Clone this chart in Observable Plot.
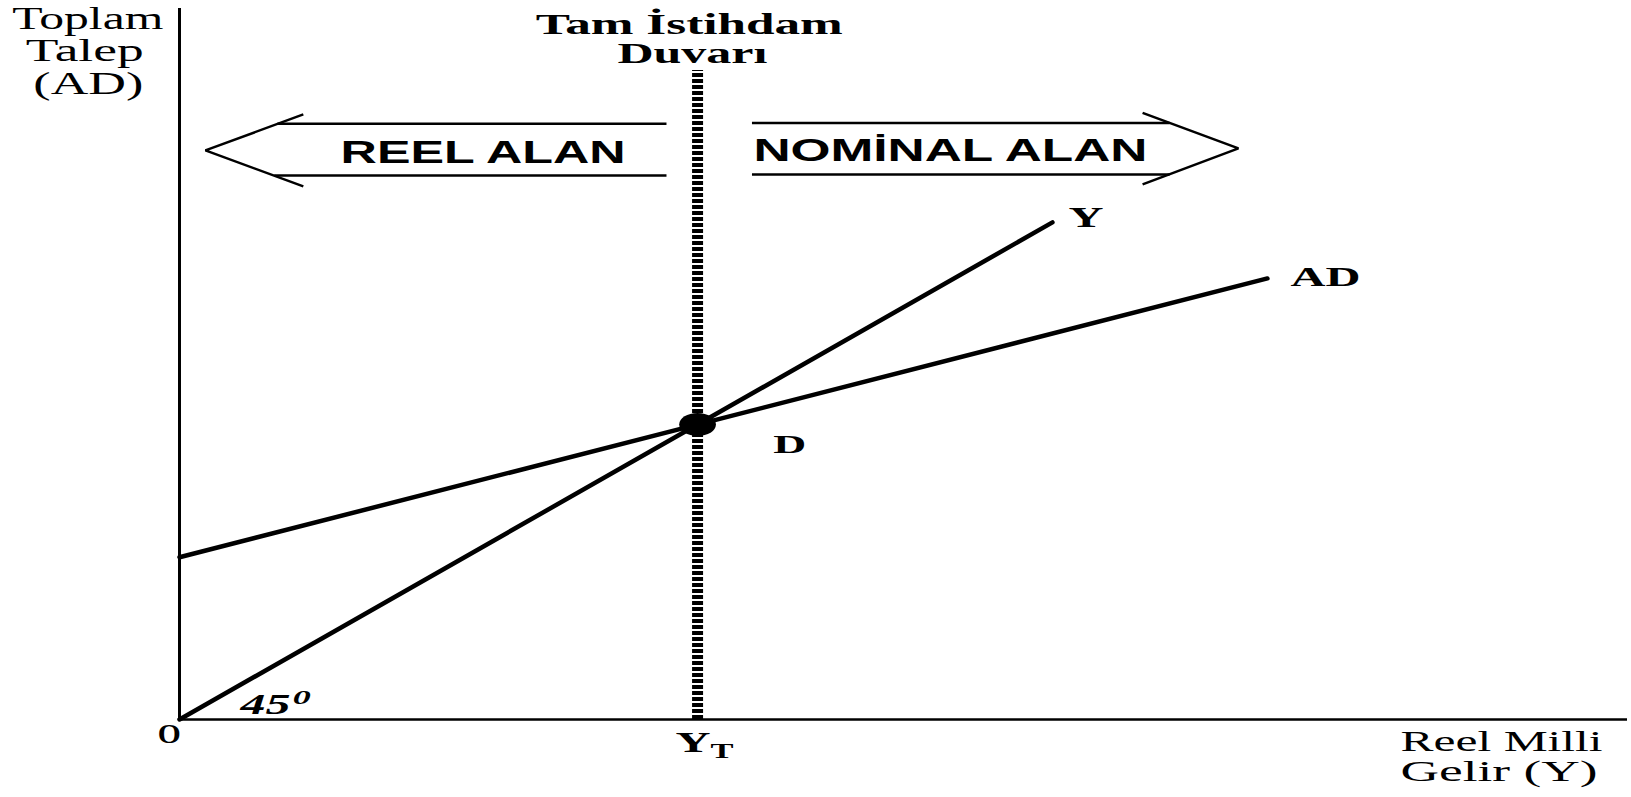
<!DOCTYPE html>
<html>
<head>
<meta charset="utf-8">
<script src="https://cdn.jsdelivr.net/npm/d3@7"></script>
<script src="https://cdn.jsdelivr.net/npm/@observablehq/plot@0.6"></script>
<style>
  html, body { margin: 0; padding: 0; background: #fff; overflow: hidden; }
  #chart svg { display: block; }
</style>
</head>
<body>
<div id="chart"></div>
<script>
// ---------- data ----------
const incomeX = [0, 168.5];          // 45° line  Y = Y
const incomeY = [0, 168.5];
const demandX = [0, 210];            // aggregate demand AD
const demandY = [55, 149.5];
const fullEmploymentY = 100;         // Y_T (tam istihdam duvarı)
const wallTop = 220;
const equilibrium = [{x: 100, y: 100}]; // point D
const xMax = 279.5, yMax = 241;

// arrow outlines (data units)
const leftShaftTop    = [[94, 201.9], [18.9, 201.9]];
const leftShaftBottom = [[94, 184.4], [18.3, 184.4]];
const leftHead        = [[23.9, 205.1], [5.0, 192.9], [23.9, 180.7]];
const rightShaftTop    = [[110.5, 202.2], [191.1, 202.2]];
const rightShaftBottom = [[110.5, 184.7], [191.1, 184.7]];
const rightHead        = [[185.9, 205.6], [204.4, 193.6], [185.9, 181.4]];

// ---------- annotations ----------
const serifRegular = [
  {t: "Toplam", x: -17.7, y: 234.2, fs: 32, w: 151},
  {t: "Talep", x: -18.3, y: 223.1, fs: 32, w: 118},
  {t: "(AD)", x: -17.6, y: 211.9, fs: 32, w: 110},
  {t: "Reel Milli", x: 255.2, y: -10.8, fs: 29, w: 202},
  {t: "Gelir (Y)", x: 254.7, y: -21.0, fs: 29, w: 197}
];
const serifBold = [
  {t: "Tam İstihdam", x: 98.4, y: 232.5, fs: 30, w: 307},
  {t: "Duvarı", x: 99.0, y: 222.4, fs: 30, w: 150},
  {t: "Y", x: 175.0, y: 166.8, fs: 30, w: 35},
  {t: "AD", x: 221.2, y: 147.1, fs: 27, w: 70},
  {t: "D", x: 117.8, y: 90.2, fs: 26, w: 33},
  {t: "O", x: -2.0, y: -8.1, fs: 27, w: 23},
  {t: "Y", x: 99.1, y: -11.0, fs: 30, w: 35},
  {t: "T", x: 104.7, y: -13.2, fs: 20, w: 23}
];
const sansBold = [
  {t: "REEL ALAN", x: 58.6, y: 188.6, fs: 31, w: 285},
  {t: "NOMİNAL ALAN", x: 148.8, y: 189.2, fs: 31, w: 394}
];
const serifItalic = [
  {t: "45", x: 16.6, y: 2.0, fs: 29, w: 50},
  {t: "0", x: 23.6, y: 5.4, fs: 19, w: 18}
];

// ellipse symbol for point D
const ellipseSymbol = {
  draw(ctx, size) {
    const r = Math.sqrt(size / Math.PI), rx = r * 1.6, ry = r, k = 0.5523;
    ctx.moveTo(rx, 0);
    ctx.bezierCurveTo(rx, ry * k, rx * k, ry, 0, ry);
    ctx.bezierCurveTo(-rx * k, ry, -rx, ry * k, -rx, 0);
    ctx.bezierCurveTo(-rx, -ry * k, -rx * k, -ry, 0, -ry);
    ctx.bezierCurveTo(rx * k, -ry, rx, -ry * k, rx, 0);
    ctx.closePath();
  }
};

const incomeData = incomeX.map((x, i) => ({x, y: incomeY[i]}));
const demandData = demandX.map((x, i) => ({x, y: demandY[i]}));

const arrowLine = (pts) => Plot.line(pts, {x: d => d[0], y: d => d[1], stroke: "#000", strokeWidth: 2.5, strokeLinejoin: "miter", strokeLinecap: "butt"});
const textMark = (data, label, opts) => Plot.text(data, {
  x: "x", y: "y", text: "t", fontSize: "fs", textAnchor: "middle", lineAnchor: "bottom",
  fill: "#000", ariaDescription: label, ...opts
});

const svg = Plot.plot({
  width: 1631,
  height: 797,
  marginLeft: 179,
  marginRight: 4,
  marginTop: 8,
  marginBottom: 78,
  x: {domain: [0, xMax], axis: null},
  y: {domain: [0, yMax], axis: null},
  style: {background: "#fff"},
  marks: [
    // axes
    Plot.ruleX([0], {y1: 0, y2: yMax, stroke: "#000", strokeWidth: 3}),
    Plot.ruleY([0], {x1: 0, x2: xMax, stroke: "#000", strokeWidth: 2.5}),
    // full employment wall
    Plot.ruleX([fullEmploymentY], {y1: 0, y2: wallTop, stroke: "#000", strokeWidth: 11, strokeDasharray: "4,2"}),
    // arrows
    arrowLine(leftShaftTop), arrowLine(leftShaftBottom), arrowLine(leftHead),
    arrowLine(rightShaftTop), arrowLine(rightShaftBottom), arrowLine(rightHead),
    // curves
    Plot.line(incomeData, {x: "x", y: "y", stroke: "#000", strokeWidth: 4.5}),
    Plot.line(demandData, {x: "x", y: "y", stroke: "#000", strokeWidth: 4.5}),
    Plot.dot(equilibrium, {x: "x", y: "y", r: 11.5, symbol: ellipseSymbol, fill: "#000", stroke: "none"}),
    // labels
    textMark(serifRegular, "lbl-serif", {fontFamily: "Liberation Serif, Times New Roman, serif"}),
    textMark(serifBold, "lbl-serifbold", {fontFamily: "Liberation Serif, Times New Roman, serif", fontWeight: "bold"}),
    textMark(sansBold, "lbl-sansbold", {fontFamily: "Liberation Sans, Arial, sans-serif", fontWeight: "bold"}),
    textMark(serifItalic, "lbl-italic", {fontFamily: "Liberation Serif, Times New Roman, serif", fontWeight: "bold", fontStyle: "italic"})
  ]
});

function fitWidths(label, data) {
  let groups = svg.querySelectorAll(`g[aria-description="${label}"]`);
  groups.forEach(g => {
    g.querySelectorAll("text").forEach((el, i) => {
      if (data[i]) {
        el.setAttribute("textLength", data[i].w);
        el.setAttribute("lengthAdjust", "spacingAndGlyphs");
      }
    });
  });
}
fitWidths("lbl-serif", serifRegular);
fitWidths("lbl-serifbold", serifBold);
fitWidths("lbl-sansbold", sansBold);
fitWidths("lbl-italic", serifItalic);

document.getElementById("chart").appendChild(svg);
</script>
</body>
</html>
